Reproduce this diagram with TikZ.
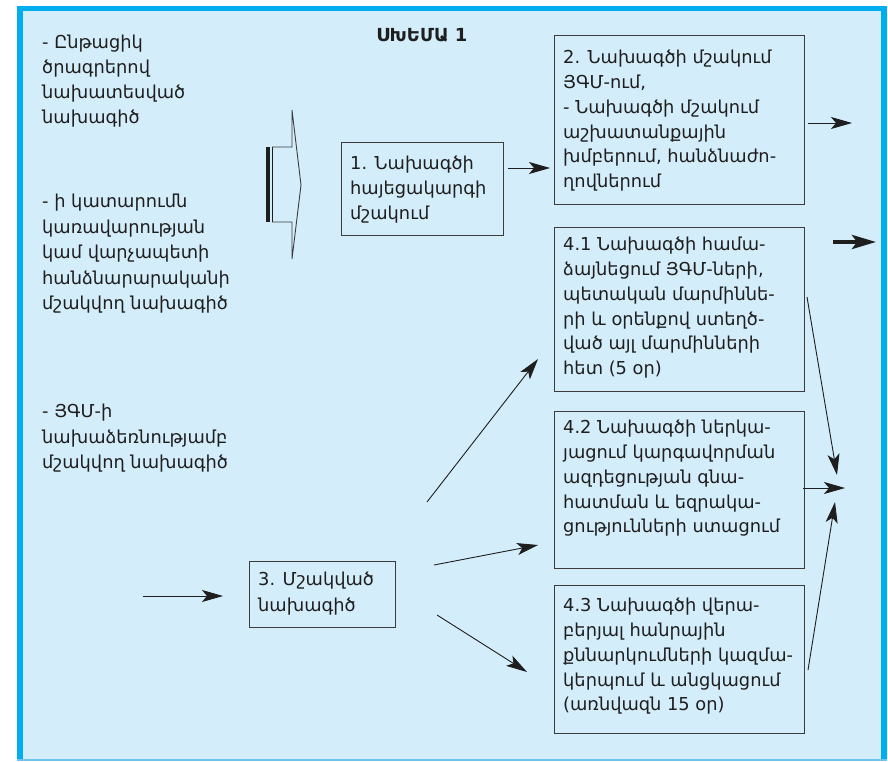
\documentclass[tikz,border=0pt]{standalone}
\usepackage{fontspec}
\setmainfont{DejaVu Sans}
\usetikzlibrary{arrows.meta}
\definecolor{panel}{RGB}{212,237,250}
\definecolor{frame}{RGB}{0,174,239}
\definecolor{frameb}{RGB}{110,195,235}
\definecolor{ink}{RGB}{30,30,30}
\definecolor{boxline}{RGB}{60,60,60}
\begin{document}
\begin{tikzpicture}[x=1pt,y=-1pt,
  stepbox/.style={draw=boxline, line width=1pt, rectangle, inner sep=0pt},
  txt/.style={anchor=north west, inner sep=0pt, align=left, text=ink,
              font=\fontsize{17.8}{24.8}\selectfont},
  arr/.style={draw=ink, line width=0.9pt,
              -{Stealth[length=21pt,width=12pt,inset=5pt]}},
  thickarr/.style={draw=ink, line width=4pt,
              -{Stealth[length=24pt,width=14pt,inset=5pt]}}]
\useasboundingbox (0,0) rectangle (888,762);
% panel and its frame
\fill[white] (0,0) rectangle (888,762);
\fill[panel] (17,6) rectangle (887,761);
\fill[frame] (17,6) rectangle (23,761);
\fill[frame] (17,6) rectangle (887,11);
\fill[frame] (881,6) rectangle (887,761);
\fill[frameb] (17,759) rectangle (887,761);

% title
\node[anchor=center, inner sep=0pt, text=ink, font=\fontsize{18}{20}\selectfont\bfseries] (title) at (422,35) {ՍԽԵՄԱ 1};

% left column of sources
\node[txt] (src1) at (42,35) {- Ընթացիկ\\ծրագրերով\\նախատեսված\\նախագիծ};
\node[txt, font=\fontsize{17.8}{25.5}\selectfont] (src2) at (42,194) {- ի կատարումն\\կառավարության\\կամ վարչապետի\\հանձնարարականի\\մշակվող նախագիծ};
\node[txt, font=\fontsize{17.8}{25.3}\selectfont] (src3) at (42,404) {- ՅԳՄ-ի\\նախաձեռնությամբ\\մշակվող նախագիծ};

% hollow block arrow
\draw[boxline, line width=0.9pt] (272,147) -- (292,147) -- (292,110) -- (301,185)
      -- (292,259) -- (292,222) -- (272,222);
\fill[ink] (266,147) rectangle (270,222);
\draw[ink, line width=0.8pt] (272,147) -- (272,222);

% boxes
\node[stepbox, minimum width=162pt, minimum height=92pt] (b1) at (422,189) {};
\node[stepbox, minimum width=250pt, minimum height=168pt] (b2) at (679,120) {};
\node[stepbox, minimum width=250pt, minimum height=164pt] (b41) at (679,309) {};
\node[stepbox, minimum width=250pt, minimum height=157pt] (b42) at (679,489.5) {};
\node[stepbox, minimum width=250pt, minimum height=148pt] (b43) at (679,659) {};
\node[stepbox, minimum width=146pt, minimum height=66pt] (b3) at (322,594) {};

% box texts
\node[txt] (t1) at (350,156) {1. Նախագծի\\հայեցակարգի\\մշակում};
\node[txt] (t2) at (563,50) {2. Նախագծի մշակում\\ՅԳՄ-ում,\\- Նախագծի մշակում\\աշխատանքային\\խմբերում, հանձնաժո-\\ղովներում};
\node[txt] (t41) at (563,237) {4.1 Նախագծի համա-\\ձայնեցում ՅԳՄ-ների,\\պետական մարմիննե-\\րի և օրենքով ստեղծ-\\ված այլ մարմինների\\հետ (5 օր)};
\node[txt] (t42) at (563,420) {4.2 Նախագծի ներկա-\\յացում կարգավորման\\ազդեցության գնա-\\հատման և եզրակա-\\ցությունների ստացում};
\node[txt] (t43) at (563,598) {4.3 Նախագծի վերա-\\բերյալ հանրային\\քննարկումների կազմա-\\կերպում և անցկացում\\(առնվազն 15 օր)};
\node[txt, font=\fontsize{17.8}{25.5}\selectfont] (t3) at (258,572) {3. Մշակված\\նախագիծ};

% connector end points
\coordinate (p12s) at (508,168);  \coordinate (p12e) at (550,168);
\coordinate (o2s)  at (808,123);  \coordinate (o2e)  at (852,123);
\coordinate (o41s) at (833,242);  \coordinate (o41e) at (876,242);
\coordinate (c41s) at (807,297);  \coordinate (c41e) at (837,475);
\coordinate (c42s) at (803,488);  \coordinate (c42e) at (845,488);
\coordinate (c43s) at (808,670);  \coordinate (c43e) at (835,502);
\coordinate (in3s) at (143,596);  \coordinate (in3e) at (223,596);
\coordinate (u41s) at (427,502);  \coordinate (u41e) at (538,359);
\coordinate (u42s) at (434,565);  \coordinate (u42e) at (538,545);
\coordinate (u43s) at (437,615);  \coordinate (u43e) at (527,672);

% connectors
\draw[arr] (p12s) -- (p12e);
\draw[arr] (o2s) -- (o2e);
\draw[thickarr] (o41s) -- (o41e);
\draw[arr] (c41s) -- (c41e);
\draw[arr] (c42s) -- (c42e);
\draw[arr] (c43s) -- (c43e);
\draw[arr] (in3s) -- (in3e);
\draw[arr] (u41s) -- (u41e);
\draw[arr] (u42s) -- (u42e);
\draw[arr] (u43s) -- (u43e);
\end{tikzpicture}
\end{document}
